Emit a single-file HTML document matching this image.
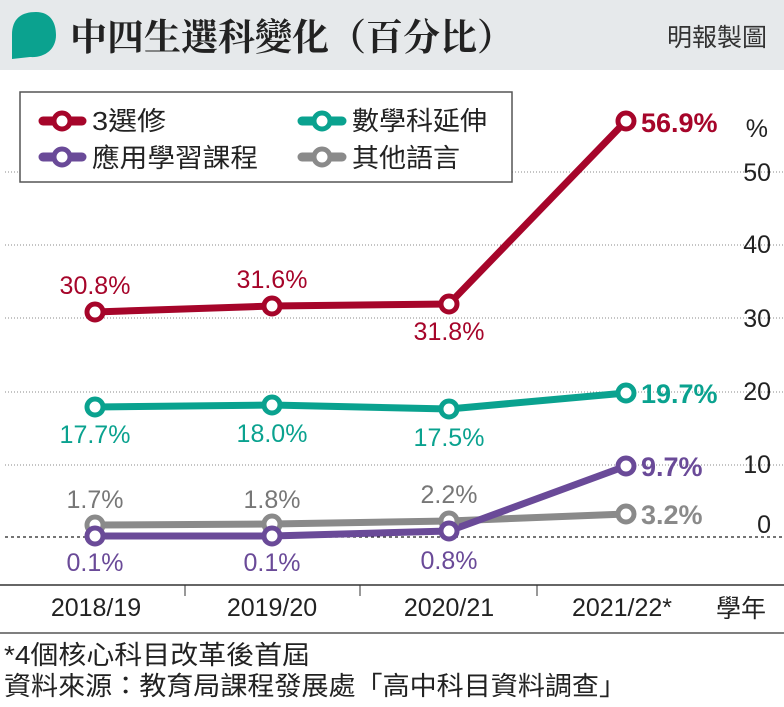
<!DOCTYPE html><html><head><meta charset="utf-8"><style>
body{margin:0;width:784px;height:702px;background:#fff;overflow:hidden;font-family:"Liberation Sans","Noto Sans CJK TC",sans-serif}
</style></head><body>
<svg width="784" height="702" xmlns="http://www.w3.org/2000/svg" font-family="Liberation Sans, Noto Sans CJK TC, sans-serif">
<rect x="0" y="0" width="784" height="70" fill="#e6e9eb"/>
<path d="M12 35 C12 18 22 12 36 12 C50 12 56 22 56 35 C56 50 44 58 30 57 L12 59 Z" fill="#0ba28f"/>
<text x="70" y="50" font-family="Noto Serif CJK SC, serif" font-weight="bold" font-size="37" fill="#222">中四生選科變化（百分比）</text>
<text x="767" y="46" text-anchor="end" font-size="25" fill="#333">明報製圖</text>
<g stroke="#888" stroke-width="1" stroke-dasharray="1,2">
<line x1="5" y1="172" x2="784" y2="172"/><line x1="5" y1="245" x2="784" y2="245"/><line x1="5" y1="318" x2="784" y2="318"/><line x1="5" y1="392" x2="784" y2="392"/><line x1="5" y1="465" x2="784" y2="465"/></g>
<line x1="5" y1="537" x2="784" y2="537" stroke="#222" stroke-width="1.2" stroke-dasharray="3,3"/>
<rect x="20" y="92" width="492" height="90" fill="#fff" stroke="#555" stroke-width="1.5"/>
<g font-size="26" fill="#222">
<text x="92" y="130" textLength="74" lengthAdjust="spacingAndGlyphs">3選修</text><text x="352" y="130" textLength="135" lengthAdjust="spacingAndGlyphs">數學科延伸</text>
<text x="92" y="167" textLength="166" lengthAdjust="spacingAndGlyphs">應用學習課程</text><text x="352" y="167" textLength="108" lengthAdjust="spacingAndGlyphs">其他語言</text></g>
<g stroke-width="5" fill="#fff">
<line x1="43" y1="121" x2="82" y2="121" stroke="#a6052a" stroke-width="9" stroke-linecap="round"/><circle cx="62" cy="121" r="8" stroke="#a6052a"/>
<line x1="302" y1="121" x2="342" y2="121" stroke="#0aa28f" stroke-width="9" stroke-linecap="round"/><circle cx="322" cy="121" r="8" stroke="#0aa28f"/>
<line x1="43" y1="157" x2="82" y2="157" stroke="#6a4a98" stroke-width="9" stroke-linecap="round"/><circle cx="62" cy="157" r="8" stroke="#6a4a98"/>
<line x1="302" y1="157" x2="342" y2="157" stroke="#8a8a8a" stroke-width="9" stroke-linecap="round"/><circle cx="322" cy="157" r="8" stroke="#8a8a8a"/>
</g>
<g font-size="25" fill="#222" text-anchor="end">
<text x="768" y="137">%</text><text x="771" y="181">50</text><text x="771" y="253">40</text><text x="771" y="327">30</text><text x="771" y="400">20</text><text x="771" y="473">10</text><text x="771" y="533">0</text></g>
<g fill="none" stroke-width="7" stroke-linejoin="round">
<polyline points="95,312 272,306 449,304 626,121" stroke="#a6052a"/>
<polyline points="95,407 272,405 449,409 626,393" stroke="#0aa28f"/>
<polyline points="95,525 272,524 449,521 626,514" stroke="#8a8a8a"/>
<polyline points="95,536 272,536 449,531 626,466" stroke="#6a4a98"/>
</g>
<g fill="#fff" stroke-width="5">
<g stroke="#a6052a"><circle cx="95" cy="312" r="8"/><circle cx="272" cy="306" r="8"/><circle cx="449" cy="304" r="8"/><circle cx="626" cy="121" r="8"/></g>
<g stroke="#0aa28f"><circle cx="95" cy="407" r="8"/><circle cx="272" cy="405" r="8"/><circle cx="449" cy="409" r="8"/><circle cx="626" cy="393" r="8"/></g>
<g stroke="#8a8a8a"><circle cx="95" cy="525" r="8"/><circle cx="272" cy="524" r="8"/><circle cx="449" cy="521" r="8"/><circle cx="626" cy="514" r="8"/></g>
<g stroke="#6a4a98"><circle cx="95" cy="536" r="8"/><circle cx="272" cy="536" r="8"/><circle cx="449" cy="531" r="8"/><circle cx="626" cy="466" r="8"/></g>
</g>
<g font-size="25" text-anchor="middle">
<g fill="#a6052a"><text x="95" y="294">30.8%</text><text x="272" y="288">31.6%</text><text x="449" y="340">31.8%</text></g>
<g fill="#0aa28f"><text x="95" y="443">17.7%</text><text x="272" y="442">18.0%</text><text x="449" y="446">17.5%</text></g>
<g fill="#777"><text x="95" y="508">1.7%</text><text x="272" y="508">1.8%</text><text x="449" y="503">2.2%</text></g>
<g fill="#6a4a98"><text x="95" y="571">0.1%</text><text x="272" y="571">0.1%</text><text x="449" y="569">0.8%</text></g>
</g>
<g font-size="27" font-weight="bold">
<text x="641" y="132" fill="#a6052a">56.9%</text><text x="641" y="403" fill="#0aa28f">19.7%</text>
<text x="641" y="476" fill="#6a4a98">9.7%</text><text x="641" y="524" fill="#8a8a8a">3.2%</text></g>
<line x1="0" y1="585" x2="784" y2="585" stroke="#333" stroke-width="1.5"/>
<g stroke="#333" stroke-width="1"><line x1="185" y1="585" x2="185" y2="596"/><line x1="360" y1="585" x2="360" y2="596"/><line x1="537" y1="585" x2="537" y2="596"/></g>
<g font-size="25" fill="#222" text-anchor="middle">
<text x="96" y="616">2018/19</text><text x="272" y="616">2019/20</text><text x="449" y="616">2020/21</text><text x="622" y="616">2021/22*</text></g>
<text x="716" y="617" font-size="25" fill="#222">學年</text>
<line x1="0" y1="633" x2="784" y2="633" stroke="#555" stroke-width="1.5"/>
<text x="4" y="664" font-size="26" fill="#222" textLength="306" lengthAdjust="spacingAndGlyphs">*4個核心科目改革後首屆</text>
<text x="4" y="695" font-size="26" fill="#222" textLength="622" lengthAdjust="spacingAndGlyphs">資料來源：教育局課程發展處「高中科目資料調查」</text>
</svg>
</body></html>
